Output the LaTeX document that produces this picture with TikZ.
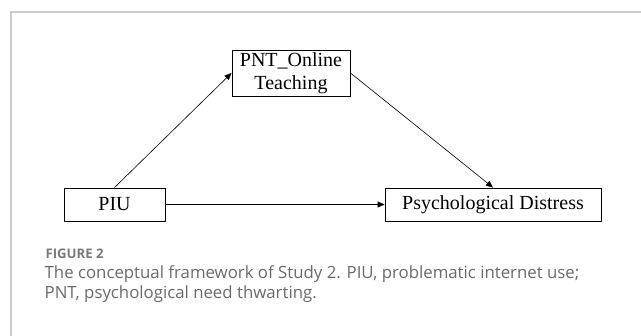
\documentclass[tikz,border=0pt]{standalone}
\usepackage{fontspec}
\setmainfont{Liberation Serif}
\setsansfont{Open Sans}
\usetikzlibrary{arrows.meta}
\definecolor{cframe}{HTML}{CCCCCC}
\definecolor{clabel}{HTML}{7A7A7A}
\definecolor{ctext}{HTML}{6A6A6A}
\tikzset{
  every picture/.style={line width=0.8pt},
  box/.style={draw=black, line width=0.9pt, align=center, inner sep=0pt, font=\fontsize{20}{23}\selectfont},
  arrow/.style={-{Triangle[length=7pt, width=6pt]}, draw=black, line width=0.6pt},
  figlabel/.style={font=\sffamily\bfseries, text=clabel, inner sep=0pt, scale=1.32},
  captext/.style={font=\sffamily, text=ctext, inner sep=0pt, scale=1.68},
}

\begin{document}
\begin{tikzpicture}[x=1pt, y=-1pt]
  \useasboundingbox (0, 0) rectangle (641, 336);
  % panel edge
  \draw[cframe, line width=1.5pt] (11, 336) -- (11, 12) -- (641, 12);
  % the three variables
  \node[box, minimum width=101pt, minimum height=33pt] (piu) at (114.5, 204.5) {PIU};
  \node[box, minimum width=118pt, minimum height=46pt] (pnt) at (291, 73) {PNT\_Online\\Teaching};
  \node[box, minimum width=216pt, minimum height=33pt] (pd) at (493, 204.5) {Psychological Distress};
  \draw[arrow] (piu.north) -- (pnt.west);
  \draw[arrow] (pnt.east) -- (pd.north);
  \draw[arrow] (piu.east) -- (pd.west);
  % caption
  \node[figlabel, transform shape, anchor=base west] (fig) at (45, 259) {FIGURE 2};
  \node[captext, transform shape, anchor=base west] (cap1) at (44, 279) {The conceptual framework of Study 2. PIU, problematic internet use;};
  \node[captext, transform shape, anchor=base west] (cap2) at (44, 298.5) {PNT, psychological need thwarting.};
\end{tikzpicture}
\end{document}
